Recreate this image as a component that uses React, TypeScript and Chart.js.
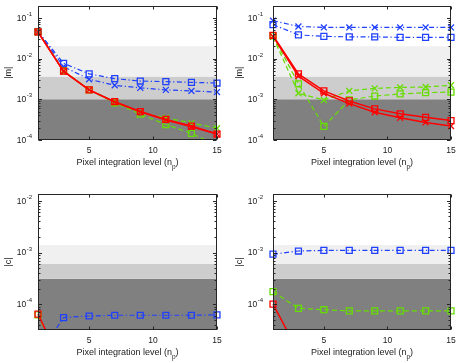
import React, { useEffect, useRef } from "react";
import { Chart, registerables } from "chart.js";
Chart.register(...registerables);

// Pixel integration levels (x values)
const NP = [1, 3, 5, 7, 9, 11, 13, 15];
const X_TICKS = [5, 10, 15];

// Top-left |m|
const tlRedSq = [0.045, 0.0049, 0.0017, 8.7e-4, 5.0e-4, 3.2e-4, 2.2e-4, 1.4e-4];
const tlRedX = [0.044, 0.0048, 0.0017, 8.5e-4, 4.9e-4, 3.1e-4, 2.1e-4, 1.4e-4];
const tlGreenSq = [0.045, 0.005, 0.0017, 8.2e-4, 4.3e-4, 2.4e-4, 1.45e-4, 7.4e-5];
const tlGreenX = [0.045, 0.005, 0.0017, 8.8e-4, 4.7e-4, 3.5e-4, 2.6e-4, 1.95e-4];
const tlBlueSq = [0.046, 0.0076, 0.0042, 0.0032, 0.0028, 0.0027, 0.0026, 0.0025];
const tlBlueX = [0.046, 0.0063, 0.0031, 0.0022, 0.0019, 0.0017, 0.0016, 0.0015];

// Top-right |m|
const trRedSq = [0.037, 0.0042, 0.0016, 9.1e-4, 5.8e-4, 4.4e-4, 3.6e-4, 3.0e-4];
const trRedX = [0.035, 0.0037, 0.0014, 7.8e-4, 4.8e-4, 3.5e-4, 2.7e-4, 2.2e-4];
const trGreenSq = [0.036, 0.0024, 2.15e-4, 9.6e-4, 1.2e-3, 1.35e-3, 1.45e-3, 1.5e-3];
const trGreenX = [0.034, 0.0014, 9.6e-4, 1.6e-3, 1.85e-3, 1.95e-3, 2.0e-3, 2.2e-3];
const trBlueSq = [0.068, 0.038, 0.035, 0.034, 0.034, 0.033, 0.033, 0.033];
const trBlueX = [0.085, 0.061, 0.058, 0.058, 0.058, 0.058, 0.058, 0.058];

// Bottom-left |c|
const blRed = [6.4e-5, 6.0e-6, 3.0e-6, 2.0e-6, 1.5e-6, 1.2e-6, 1.0e-6, 9.0e-7];
const blGreen = [6.2e-5, 5.5e-6, 2.8e-6, 1.9e-6, 1.4e-6, 1.1e-6, 9.5e-7, 8.5e-7];
const blBlue = [1.0e-5, 5.5e-5, 5.9e-5, 6.1e-5, 6.1e-5, 6.1e-5, 6.1e-5, 6.2e-5];

// Bottom-right |c|
const brRed = [1.0e-4, 1.2e-5, 6.0e-6, 4.0e-6, 3.0e-6, 2.5e-6, 2.0e-6, 1.8e-6];
const brGreen = [1.75e-4, 8.3e-5, 7.8e-5, 7.4e-5, 7.4e-5, 7.4e-5, 7.4e-5, 7.4e-5];
const brBlue = [9.3e-4, 1.07e-3, 1.1e-3, 1.1e-3, 1.1e-3, 1.1e-3, 1.1e-3, 1.1e-3];

// Threshold bands
const M_BANDS = [1e-3, 3.6e-3, 0.02];
const C_BANDS = [3.1e-4, 6e-4, 1.4e-3];

const RED = "#ff0000";
const BLUE = "#2040ff";
const GREEN = "#66dd00";
const BAND_COLORS = ["#808080", "#cdcdcd", "#f0f0f0"];
const FONT = '"Liberation Sans", Arial, Helvetica, sans-serif';
const TEXT = "#1a1a1a";

const DASH: Record<string, number[]> = {
  solid: [],
  dash: [5, 3],
  dashdot: [5, 2.5, 1.2, 2.5],
};

function ds(values: number[], color: string, line: string, marker: string) {
  return {
    data: NP.map((x, i) => ({ x, y: values[i] })),
    borderColor: color,
    backgroundColor: color,
    borderWidth: line === "solid" ? 1.5 : 1.2,
    borderDash: DASH[line],
    pointStyle: marker,
    pointRadius: 4.2,
    pointBorderWidth: 1.3,
    pointBorderColor: color,
    pointBackgroundColor: "rgba(0,0,0,0)",
    fill: false,
    tension: 0,
    clip: { left: 8, right: 8, top: 0, bottom: 0 },
  };
}

type PanelCfg = {
  datasets: any[];
  yMin: number;
  yMax: number;
  bands: number[];
  yTitle: string;
  pad: { left: number; right: number; top: number; bottom: number };
};

function makePlugin(cfg: PanelCfg) {
  return {
    id: "matlabAxes",
    beforeDatasetsDraw(chart: any) {
      const { ctx, chartArea: a, scales } = chart;
      const y = scales.y;
      ctx.save();
      ctx.beginPath();
      ctx.rect(a.left, a.top, a.right - a.left, a.bottom - a.top);
      ctx.clip();
      const edges = [cfg.yMin, ...cfg.bands];
      for (let i = 0; i < cfg.bands.length; i++) {
        const y1 = y.getPixelForValue(edges[i + 1]);
        const y2 = y.getPixelForValue(Math.max(edges[i], cfg.yMin));
        ctx.fillStyle = BAND_COLORS[i];
        ctx.fillRect(a.left, y1, a.right - a.left, y2 - y1);
      }
      ctx.restore();
    },
    afterDraw(chart: any) {
      const { ctx, chartArea: a, scales } = chart;
      const xs = scales.x;
      const ys = scales.y;
      ctx.save();
      const L = Math.round(a.left) + 0.5;
      const R = Math.round(a.right) - 0.5;
      const T = Math.round(a.top) + 0.5;
      const B = Math.round(a.bottom) - 0.5;
      ctx.strokeStyle = "#262626";
      ctx.lineWidth = 1;
      ctx.setLineDash([]);
      ctx.strokeRect(L, T, R - L, B - T);
      ctx.beginPath();
      for (const v of X_TICKS) {
        const px = Math.round(xs.getPixelForValue(v)) + 0.5;
        ctx.moveTo(px, B);
        ctx.lineTo(px, B - 3);
        ctx.moveTo(px, T);
        ctx.lineTo(px, T + 3);
      }
      const k0 = Math.floor(Math.log10(cfg.yMin));
      const k1 = Math.ceil(Math.log10(cfg.yMax));
      for (let k = k0; k <= k1; k++) {
        for (let m = 1; m <= 9; m++) {
          const v = m * Math.pow(10, k);
          if (v < cfg.yMin || v > cfg.yMax) continue;
          const py = Math.round(ys.getPixelForValue(v)) + 0.5;
          const len = m === 1 ? 3.5 : 2;
          ctx.moveTo(L, py);
          ctx.lineTo(L + len, py);
          ctx.moveTo(R, py);
          ctx.lineTo(R - len, py);
        }
      }
      ctx.stroke();

      // y tick labels 10^k
      ctx.fillStyle = TEXT;
      ctx.textBaseline = "middle";
      ctx.textAlign = "left";
      const labelRight = 32;
      for (let k = k0; k <= k1; k++) {
        const v = Math.pow(10, k);
        if (v < cfg.yMin || v > cfg.yMax) continue;
        const py = ys.getPixelForValue(v);
        const exp = String(k);
        ctx.font = `6px ${FONT}`;
        const wSup = ctx.measureText(exp).width;
        ctx.font = `8.5px ${FONT}`;
        const wBase = ctx.measureText("10").width;
        const x0 = labelRight - wSup - wBase - 0.5;
        ctx.fillText("10", x0, py + 0.5);
        ctx.font = `6px ${FONT}`;
        ctx.fillText(exp, x0 + wBase + 0.5, py - 3.5);
      }

      // x tick labels
      ctx.font = `8.5px ${FONT}`;
      ctx.textAlign = "center";
      for (const v of X_TICKS) {
        ctx.fillText(String(v), xs.getPixelForValue(v), a.bottom + 10.5);
      }

      // x title with subscript
      const t1 = "Pixel integration level (n";
      const t2 = "p";
      const t3 = ")";
      ctx.textAlign = "left";
      ctx.font = `9px ${FONT}`;
      const w1 = ctx.measureText(t1).width;
      const w3 = ctx.measureText(t3).width;
      ctx.font = `6.5px ${FONT}`;
      const w2 = ctx.measureText(t2).width;
      const cx = (a.left + a.right) / 2;
      let tx = cx - (w1 + w2 + w3) / 2;
      const ty = a.bottom + 23;
      ctx.font = `9px ${FONT}`;
      ctx.fillText(t1, tx, ty);
      tx += w1;
      ctx.font = `6.5px ${FONT}`;
      ctx.fillText(t2, tx, ty + 4);
      tx += w2;
      ctx.font = `9px ${FONT}`;
      ctx.fillText(t3, tx, ty);

      // y title
      ctx.save();
      ctx.translate(9, (a.top + a.bottom) / 2);
      ctx.rotate(-Math.PI / 2);
      ctx.textAlign = "center";
      ctx.font = `9px ${FONT}`;
      ctx.fillText(cfg.yTitle, 0, 0);
      ctx.restore();

      ctx.restore();
    },
  };
}

function Panel({ cfg, left, top, width, height }: { cfg: PanelCfg; left: number; top: number; width: number; height: number }) {
  const ref = useRef<HTMLCanvasElement | null>(null);
  useEffect(() => {
    if (!ref.current) return;
    const chart = new Chart(ref.current, {
      type: "line",
      data: { datasets: cfg.datasets },
      options: {
        animation: false,
        responsive: false,
        events: [],
        layout: { padding: cfg.pad },
        plugins: { legend: { display: false }, tooltip: { enabled: false } },
        scales: {
          x: { type: "linear", min: 1, max: 15, display: false },
          y: { type: "logarithmic", min: cfg.yMin, max: cfg.yMax, display: false },
        },
      } as any,
      plugins: [makePlugin(cfg)],
    });
    return () => chart.destroy();
  }, [cfg]);
  return (
    <canvas
      ref={ref}
      width={width}
      height={height}
      style={{ position: "absolute", left, top, width, height }}
    />
  );
}

const M_MIN = 1e-4;
const M_MAX = 0.2;
const C_MIN = 3.16e-5;
const C_MAX = 0.0136;

const panels: { cfg: PanelCfg; left: number; top: number; width: number; height: number }[] = [
  {
    left: 0, top: 0, width: 232, height: 181,
    cfg: {
      yMin: M_MIN, yMax: M_MAX, bands: M_BANDS, yTitle: "|m|",
      pad: { left: 38, right: 15, top: 4, bottom: 41 },
      datasets: [
        ds(tlRedSq, RED, "solid", "rect"),
        ds(tlRedX, RED, "solid", "crossRot"),
        ds(tlGreenSq, GREEN, "dash", "rect"),
        ds(tlGreenX, GREEN, "dash", "crossRot"),
        ds(tlBlueSq, BLUE, "dashdot", "rect"),
        ds(tlBlueX, BLUE, "dashdot", "crossRot"),
      ],
    },
  },
  {
    left: 231, top: 0, width: 232, height: 181,
    cfg: {
      yMin: M_MIN, yMax: M_MAX, bands: M_BANDS, yTitle: "|m|",
      pad: { left: 42, right: 12, top: 4, bottom: 41 },
      datasets: [
        ds(trRedSq, RED, "solid", "rect"),
        ds(trRedX, RED, "solid", "crossRot"),
        ds(trGreenSq, GREEN, "dash", "rect"),
        ds(trGreenX, GREEN, "dash", "crossRot"),
        ds(trBlueSq, BLUE, "dashdot", "rect"),
        ds(trBlueX, BLUE, "dashdot", "crossRot"),
      ],
    },
  },
  {
    left: 0, top: 181, width: 232, height: 182,
    cfg: {
      yMin: C_MIN, yMax: C_MAX, bands: C_BANDS, yTitle: "|c|",
      pad: { left: 38, right: 15, top: 13, bottom: 33 },
      datasets: [
        ds(blRed, RED, "solid", "rect"),
        ds(blGreen, GREEN, "dash", "rect"),
        ds(blBlue, BLUE, "dashdot", "rect"),
      ],
    },
  },
  {
    left: 231, top: 181, width: 232, height: 182,
    cfg: {
      yMin: C_MIN, yMax: C_MAX, bands: C_BANDS, yTitle: "|c|",
      pad: { left: 42, right: 12, top: 13, bottom: 33 },
      datasets: [
        ds(brRed, RED, "solid", "rect"),
        ds(brGreen, GREEN, "dash", "rect"),
        ds(brBlue, BLUE, "dashdot", "rect"),
      ],
    },
  },
];

export default function App() {
  return (
    <div style={{ position: "absolute", left: 0, top: 0, width: 463, height: 363, background: "#fff" }}>
      {panels.map((p, i) => (
        <Panel key={i} cfg={p.cfg} left={p.left} top={p.top} width={p.width} height={p.height} />
      ))}
    </div>
  );
}
